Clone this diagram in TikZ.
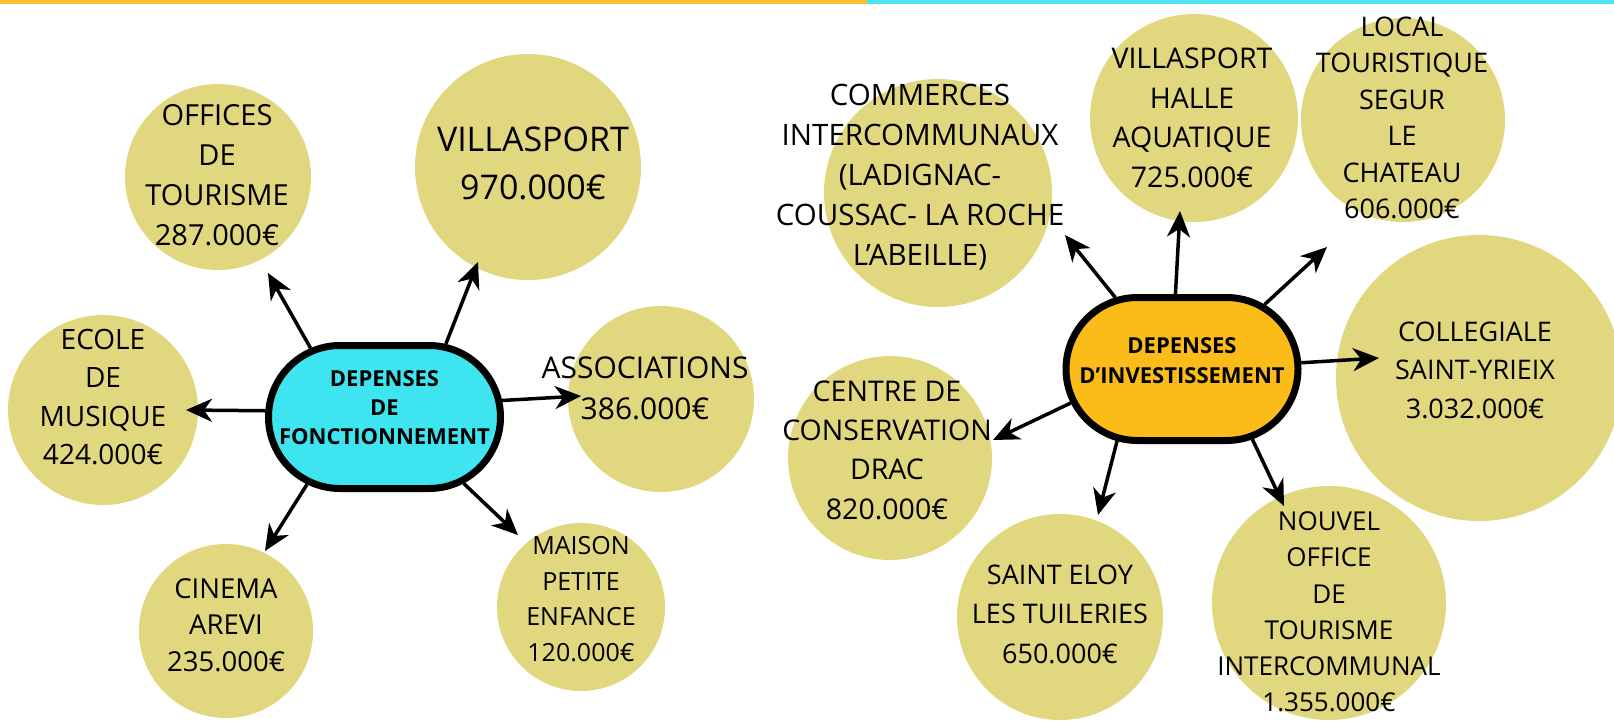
\documentclass[tikz,border=0pt]{standalone}
\usepackage{fontspec}
\setmainfont{Open Sans}
\usetikzlibrary{shapes.misc,arrows.meta}
\definecolor{khaki}{RGB}{225,215,126}
\definecolor{hubcyan}{RGB}{62,229,240}
\definecolor{huborange}{RGB}{251,188,25}
\definecolor{barorange}{RGB}{252,192,45}
\definecolor{barcyan}{RGB}{77,227,240}
\begin{document}
\begin{tikzpicture}[x=1pt,y=-1pt,
  bubble/.style={circle,fill=khaki,inner sep=0pt,minimum size=#1},
  txt/.style 2 args={align=center,inner sep=0pt,font=\fontsize{#1}{#2}\selectfont},
  hub/.style={rounded rectangle,draw=black,line width=7pt,minimum width=232pt,minimum height=143pt,inner sep=0pt},
  hubtxt/.style={align=center,inner sep=0pt,font=\bfseries\fontsize{22}{#1}\selectfont},
  arr/.style={line width=3.5pt,-{Stealth[length=26pt,width=23pt,inset=8pt]}}]
\useasboundingbox (0,0) rectangle (1614,723);
\fill[barorange] (0,0) rectangle (867,4);
\fill[barcyan] (867,0) rectangle (1614,4);

\node[bubble=186pt] (c-offices) at (218,177) {};
\node[bubble=226pt] (c-villa) at (528,167) {};
\node[bubble=190pt] (c-ecole) at (103,410) {};
\node[bubble=186pt] (c-assoc) at (661,399) {};
\node[bubble=174pt] (c-cinema) at (226,631) {};
\node[bubble=168pt] (c-maison) at (581,607) {};
\node[bubble=228pt] (c-commerces) at (938,193) {};
\node[bubble=208pt] (c-halle) at (1194,118) {};
\node[bubble=204pt] (c-local) at (1403,120) {};
\node[bubble=286pt] (c-collegiale) at (1479,378) {};
\node[bubble=204pt] (c-centre) at (890,458) {};
\node[bubble=206pt] (c-eloy) at (1060,617) {};
\node[bubble=234pt] (c-nouvel) at (1329,603) {};

\node[txt={29}{40}] (t-offices) at (217,175) {OFFICES\\DE\\TOURISME\\287.000€};
\node[txt={34}{48}] (t-villa) at (533,163) {VILLASPORT\\970.000€};
\node[txt={28}{38.5}] (t-ecole) at (103,397) {ECOLE\\DE\\MUSIQUE\\424.000€};
\node[txt={30}{41}] (t-assoc) at (645,388) {ASSOCIATIONS\\386.000€};
\node[txt={27.5}{36.5}] (t-cinema) at (226,625) {CINEMA\\AREVI\\235.000€};
\node[txt={25}{35.5}] (t-maison) at (581,599) {MAISON\\PETITE\\ENFANCE\\120.000€};
\node[txt={29.5}{40}] (t-commerces) at (920,177) {COMMERCES\\INTERCOMMUNAUX\\(LADIGNAC-\\COUSSAC- LA ROCHE\\L’ABEILLE)};
\node[txt={28.5}{39.6}] (t-halle) at (1192,118) {VILLASPORT\\HALLE\\AQUATIQUE\\725.000€};
\node[txt={27}{36.5}] (t-local) at (1402,118) {LOCAL\\TOURISTIQUE\\SEGUR\\LE\\CHATEAU\\606.000€};
\node[txt={27}{38.6}] (t-collegiale) at (1475,370) {COLLEGIALE\\SAINT-YRIEIX\\3.032.000€};
\node[txt={28.5}{39.4}] (t-centre) at (887,450) {CENTRE DE\\CONSERVATION\\DRAC\\820.000€};
\node[txt={27}{39.6}] (t-eloy) at (1060,614) {SAINT ELOY\\LES TUILERIES\\650.000€};
\node[txt={26}{36.2}] (t-nouvel) at (1329,612) {NOUVEL\\OFFICE\\DE\\TOURISME\\INTERCOMMUNAL\\1.355.000€};

\node[hub,fill=hubcyan] (fonct) at (384.5,417) {};
\node[hubtxt=29] (t-fonct) at (384.5,408) {DEPENSES\\DE\\FONCTIONNEMENT};
\node[hub,fill=huborange] (invest) at (1182,369) {};
\node[hubtxt=30] (t-invest) at (1182,361) {DEPENSES\\D’INVESTISSEMENT};

\coordinate (a-offices) at (268,273);
\coordinate (a-villa) at (478,262);
\coordinate (a-ecole) at (186,410);
\coordinate (a-assoc) at (581,396);
\coordinate (a-cinema) at (265,551);
\coordinate (a-maison) at (518,535);
\coordinate (a-commerces) at (1065,235);
\coordinate (a-halle) at (1180,211);
\coordinate (a-local) at (1327,247);
\coordinate (a-collegiale) at (1379,358);
\coordinate (a-centre) at (993,440);
\coordinate (a-eloy) at (1098,515);
\coordinate (a-nouvel) at (1284,506);

\draw[arr] (fonct.137) -- (a-offices);
\draw[arr] (fonct.50) -- (a-villa);
\draw[arr] (fonct.177) -- (a-ecole);
\draw[arr] (fonct.8) -- (a-assoc);
\draw[arr] (fonct.221) -- (a-cinema);
\draw[arr] (fonct.320) -- (a-maison);
\draw[arr] (invest.133) -- (a-commerces);
\draw[arr] (invest.95) -- (a-halle);
\draw[arr] (invest.38) -- (a-local);
\draw[arr] (invest.3) -- (a-collegiale);
\draw[arr] (invest.197) -- (a-centre);
\draw[arr] (invest.228) -- (a-eloy);
\draw[arr] (invest.315) -- (a-nouvel);
\end{tikzpicture}
\end{document}
